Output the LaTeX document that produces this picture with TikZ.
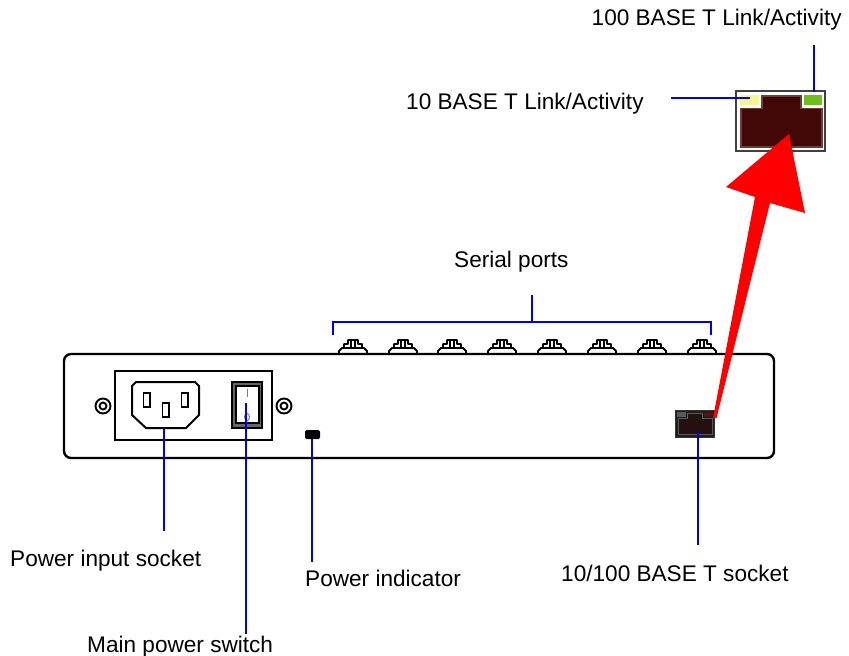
\documentclass[tikz,border=0pt]{standalone}
\usepackage{fontspec}
\setmainfont{Liberation Sans}
\definecolor{leadblue}{RGB}{0,0,235}
\definecolor{jackdark}{RGB}{66,8,8}
\definecolor{jackedge}{RGB}{110,60,55}
\definecolor{ledyellow}{RGB}{246,246,150}
\definecolor{ledgreen}{RGB}{112,190,30}
\definecolor{smalljack}{RGB}{36,16,14}
\tikzset{
  lbl/.style={font=\fontsize{22.6}{26}\selectfont, inner sep=0pt, anchor=base west, text=black},
  lead/.style={draw=leadblue, line width=2.2pt},
  body/.style={draw=black, line width=2.4pt, fill=white},
  serialport/.pic={
    \draw[black, line width=1.9pt, fill=white, line join=round]
      (-14,0) -- (-14,-3) -- (-11,-6) -- (-9,-6) -- (-9,-10) -- (-5,-10) -- (-5,-14) -- (5,-14) -- (5,-10) -- (9,-10) -- (9,-6) -- (11,-6) -- (14,-3) -- (14,0) -- cycle;
    \draw[black, line width=1.9pt] (-11,-6) -- (11,-6) (-1.7,-14) -- (-1.7,-6) (1.7,-14) -- (1.7,-6);
  }
}
\begin{document}
\begin{tikzpicture}[x=1pt,y=-1pt]
\useasboundingbox (0,0) rectangle (849,656);
% labels
\node[lbl] (l100) at (591.5,25) {100 BASE T Link/Activity};
\node[lbl] (l10)  at (406,109) {10 BASE T Link/Activity};
\node[lbl] (lser) at (454,267) {Serial ports};
\node[lbl] (lpis) at (10,566) {Power input socket};
\node[lbl] (lmps) at (87,652) {Main power switch};
\node[lbl] (lpi)  at (305,586) {Power indicator};
\node[lbl] (lrj)  at (561,581) {10/100 BASE T socket};
% serial ports
\foreach \n/\px in {1/353,2/403,3/452,4/502,5/552,6/602,7/652,8/702}
  \pic at (\px,354) {serialport};
% chassis
\draw[body, rounded corners=7pt] (64,354) rectangle (774,458);
% power panel
\draw[black, line width=2pt, fill=white] (115,371) rectangle (272,440);
\node[draw=black, line width=1.9pt, fill=white, circle, minimum size=15pt, inner sep=0pt] (screwl) at (103,406) {};
\draw[black, line width=1.9pt] (screwl.center) circle (3.5pt);
\node[draw=black, line width=1.9pt, fill=white, circle, minimum size=15pt, inner sep=0pt] (screwr) at (284,406) {};
\draw[black, line width=1.9pt] (screwr.center) circle (3.5pt);
% socket
\draw[black, line width=2pt, fill=white, line join=round]
  (136,382) -- (195,382) -- (199,386) -- (199,415) -- (186,428) -- (146,428) -- (132,415) -- (132,386) -- cycle;
\draw[black, line width=1.9pt, fill=white] (143.5,393) rectangle (150,407);
\draw[black, line width=1.9pt, fill=white] (162.5,403) rectangle (169,417);
\draw[black, line width=1.9pt, fill=white] (181.5,393) rectangle (188,407);
% switch
\draw[black, line width=1.8pt, fill=black!60] (232,382) rectangle (262,428);
\draw[black, line width=1.6pt, fill=white] (236,386) rectangle (259,423);
\draw[gray, line width=1pt] (247,388.5) -- (247,396.5);
\draw[gray, line width=1pt] (247,417) ellipse (2.5pt and 3.5pt);
% indicator
\node[fill=black, rounded corners=1.5pt, inner sep=0pt, minimum width=15pt, minimum height=9pt] (ind) at (312.5,434.5) {};
% small RJ socket
\draw[black!80, line width=1pt, fill=black!88] (675,410) rectangle (714,437);
\draw[black!65, line width=.8pt, fill=smalljack] (678,418) -- (687,418) -- (687,413) -- (702,413) -- (702,418) -- (712,418) -- (712,434) -- (678,434) -- cycle;
\fill[black!65] (677,412) rectangle (686,417);
\fill[jackdark!70!red] (704,413) rectangle (711,416);
% big RJ jack
\draw[black!75, line width=1.6pt, fill=white] (736,91) rectangle (825,151);
\draw[jackedge, line width=1.5pt, fill=jackdark]
  (741,108.5) -- (762,108.5) -- (762,96) -- (801,96) -- (801,108.5) -- (822,108.5) -- (822,147) -- (741,147) -- cycle;
\node[fill=ledyellow, inner sep=0pt, minimum width=19pt, minimum height=10pt] (yled) at (749.5,100) {};
\node[fill=ledgreen, inner sep=0pt, minimum width=18pt, minimum height=10pt] (gled) at (813,100) {};
% named ends
\coordinate (a10) at (671,98);
\coordinate (a100) at (814,45);
\coordinate (serm) at (532,295);
\coordinate (serb) at (532,322);
\coordinate (serl) at (333,335);
\coordinate (serr) at (711,335);
\coordinate (sockb) at (164,428);
\coordinate (sockend) at (164,531);
\coordinate (swt) at (246,403);
\coordinate (swend) at (246,634);
\coordinate (indend) at (312,562);
\coordinate (rjt) at (698,431);
\coordinate (rjend) at (698,545);
% leads
\draw[lead] (a10) -- (a10 -| yled.center);
\draw[lead] (a100) -- (a100 |- 0,92);
\draw[lead] (serm) -- (serb);
\draw[lead] (serl) |- (serb) -| (serr);
\draw[lead] (sockb) -- (sockend);
\draw[lead] (swt) -- (swend);
\draw[lead] (ind.south -| indend) -- (indend);
\draw[lead] (rjt) -- (rjend);
% red arrow
\fill[red] (713,418) -- (755,197) -- (726,187) -- (789,134) -- (805,213) -- (770,203) -- (716.5,418) -- cycle;
\end{tikzpicture}
\end{document}
